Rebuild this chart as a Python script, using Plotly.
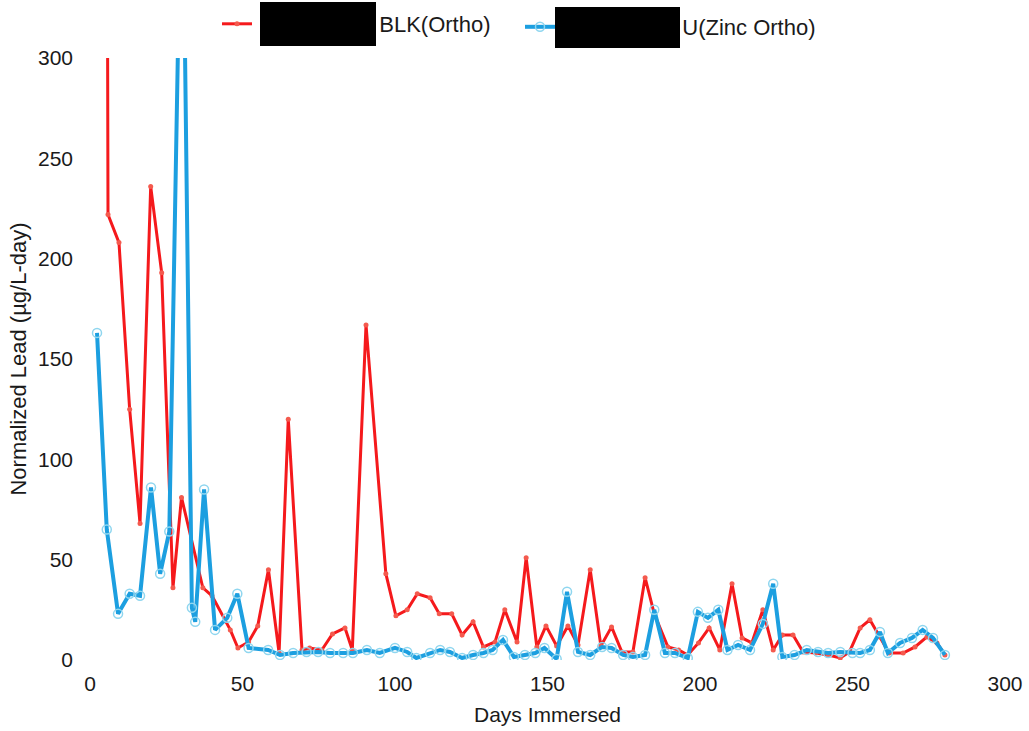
import plotly.graph_objects as go

# ---- data ----
red_name = "BLK(Ortho)"
blue_name = "U(Zinc Ortho)"

red_days = [5.5, 5.9, 9.5, 13, 16.4, 19.9, 23.5, 27.2, 30,
            37, 40, 46, 48.5, 52, 55, 58.5, 62, 65,
            69.5, 72, 76, 79.5, 83.6, 86, 90.5, 97, 100.3,
            104, 107.3, 111.5, 114.5, 118.6, 122, 125.6, 129, 132.8,
            136, 140, 143, 146.5, 149.5, 153, 156.7, 160, 164,
            167.5, 171, 174.4, 178, 182, 185, 189.5, 193, 196,
            199.5, 203, 206.5, 210.5, 213.8, 217, 220.6, 224, 227,
            230.5, 233.8, 238, 242, 246, 249, 252.5, 255.7, 259,
            262, 266.6, 270.5, 274.4, 277.7, 280.3]
red_vals = [480, 222, 208, 125, 68, 236, 193, 36, 81,
            36, 32, 15, 6, 9, 17, 45, 3.5, 120,
            5, 6, 5, 13, 16, 5, 167, 43, 22,
            25, 33, 31, 23, 23, 12.5, 19, 6.5, 9,
            25, 9, 51, 6.5, 17, 7, 17, 7.5, 45,
            7, 16.5, 4, 4, 41, 23, 6.5, 5, 2.5,
            8.5, 16, 5, 38, 11, 8.5, 25, 5, 12.5,
            12.5, 4, 3.5, 2.5, 1, 4, 16, 20, 11.5,
            3.5, 3.5, 6.5, 11.5, 8.5, 2.5]

blue_days = [2.3, 5.5, 9.2, 13, 16.4, 20, 23, 26, 30.2, 33.4, 34.5, 37.4, 41, 45, 48.3,
             52, 58.4, 62.3, 66.6, 71, 74.8, 78.7, 83, 86.2, 90.8, 95, 100, 104, 107,
             111.5, 114.8, 118, 122, 125.6, 129, 132, 135.4, 139, 142.6, 146, 149, 153,
             156.4, 160, 164, 167.9, 171, 174.8, 178, 182, 185, 188.5, 191.8, 196,
             199.3, 202.6, 206, 209, 212.5, 216.4, 220.6, 224, 227, 231, 235, 238.7,
             242, 246, 250, 252.5, 255.7, 259, 261.6, 265.6, 269.5, 273, 276.4, 280.3]
blue_vals = [163, 65, 23, 33, 32, 86, 43, 64, 420, 26, 19, 85, 15, 21, 33,
             6, 5, 2.5, 3.5, 4, 4, 3.5, 3.5, 3.5, 5, 3.5, 6, 4, 1,
             3.5, 5, 4, 1, 2.5, 3.5, 5, 10, 1.5, 2.5, 3.5, 6, 0.5,
             34, 4, 2.5, 6.5, 6, 2.5, 1.5, 2.5, 25, 3.5, 3.5, 1,
             24, 21, 25, 5, 7.5, 5, 18, 38, 1.5, 2.5, 5, 4,
             3.5, 4, 3.5, 3.5, 5, 14, 3.5, 8.5, 11, 15, 11, 2.5]

x_ticks = [0, 50, 100, 150, 200, 250, 300]
y_ticks = [0, 50, 100, 150, 200, 250, 300]
x_title = "Days Immersed"
y_title = "Normalized Lead (µg/L-day)"

# ---- figure ----
W, H = 1029, 731
L, R, T, B = 90, 24, 58, 71
FONT = "Liberation Sans, Arial, sans-serif"
NB = "\u00a0"

fig = go.Figure()
fig.add_trace(go.Scatter(
    x=red_days, y=red_vals, mode="lines+markers",
    name=NB * 20 + red_name, legend="legend",
    line=dict(color="#f5191c", width=3),
    marker=dict(symbol="circle", size=5, color="#f45a4e"),
))
fig.add_trace(go.Scatter(
    x=blue_days, y=blue_vals, mode="lines+markers",
    name=NB * 20 + blue_name, legend="legend2",
    line=dict(color="#1c9fe0", width=4),
    marker=dict(symbol="circle-open", size=9, color="#8fd6ef", line=dict(width=1.5)),
))

def px_to_paper_x(px):
    return (px - L) / (W - L - R)

def px_to_paper_y(py):
    return (H - B - py) / (H - T - B)

# redaction boxes present in the reference legend
for x0, x1, y0, y1 in [(260, 376, 2, 46), (555, 680, 7, 48)]:
    fig.add_shape(type="rect", xref="paper", yref="paper",
                  x0=px_to_paper_x(x0), x1=px_to_paper_x(x1),
                  y0=px_to_paper_y(y1), y1=px_to_paper_y(y0),
                  fillcolor="black", line=dict(width=0), layer="above")

legend_common = dict(orientation="h", xref="container", yref="container",
                     xanchor="left", yanchor="middle", bgcolor="rgba(0,0,0,0)",
                     font=dict(family=FONT, size=22, color="#1a1a1a"),
                     borderwidth=0)

fig.update_layout(
    width=W, height=H,
    margin=dict(l=L, r=R, t=T, b=B, autoexpand=False),
    paper_bgcolor="white", plot_bgcolor="white",
    font=dict(family=FONT, size=21, color="#1a1a1a"),
    legend=dict(x=217 / W, y=1 - 24 / H, **legend_common),
    legend2=dict(x=520 / W, y=1 - 27 / H, **legend_common),
    xaxis=dict(range=[0, 300], tickvals=x_ticks, showgrid=False, zeroline=False,
               showline=False, ticks="", ticklabelstandoff=9,
               title=dict(text=x_title, standoff=13, font=dict(size=21))),
    yaxis=dict(range=[0, 300], tickvals=y_ticks, showgrid=False, zeroline=False,
               showline=False, ticks="", ticklabelstandoff=16,
               title=dict(text=y_title, standoff=5, font=dict(size=22))),
    showlegend=True,
)

fig.write_html("out.html", config={"displayModeBar": False},
               post_script="document.body.style.margin='0';")
